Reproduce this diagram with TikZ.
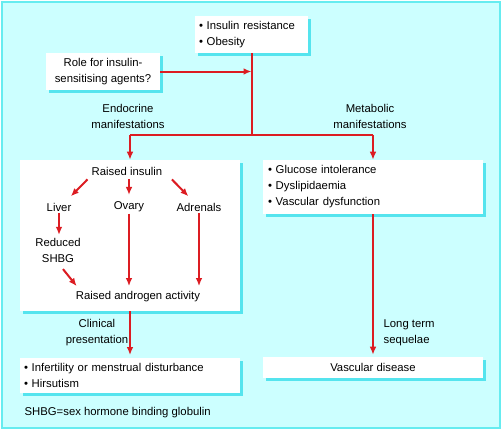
\documentclass[tikz,border=0pt]{standalone}
\usepackage{fontspec}
\setmainfont{Liberation Sans}
\usetikzlibrary{positioning, shadows, arrows.meta}
\definecolor{pale_cyan}{RGB}{204,255,255}
\definecolor{frame_cyan}{RGB}{102,236,240}
\definecolor{shade_cyan}{RGB}{85,228,238}
\definecolor{path_red}{RGB}{220,28,34}
\tikzstyle{panel} = [rectangle, fill=white, inner xsep=3pt, inner ysep=0pt,
                    general shadow={fill=shade_cyan, shadow xshift=2.25pt, shadow yshift=-2.25pt}]
\tikzstyle{txt} = [inner sep=1pt, align=center]
\tikzstyle{arrow} = [line width=1.5pt, -{Latex[length=6pt,width=5pt]}, path_red]
\tikzstyle{link} = [line width=1.5pt, path_red]

\begin{document}
\begin{tikzpicture}[x=0.75pt, y=-0.75pt, every node/.style={font=\fontsize{8.5pt}{12pt}\selectfont}]

    \useasboundingbox (0,0) rectangle (502,430);
    \draw[draw=frame_cyan, fill=pale_cyan, line width=1.5pt] (2,1.5) rectangle (500,428);

    % boxes
    \node[panel, text width=78.75pt, minimum height=27.75pt, align=left] (cause) at (251.5,34.5)
        {\textbullet\ Insulin resistance\\\textbullet\ Obesity};
    \node[panel, minimum width=85.5pt, minimum height=27.75pt, align=center] (role) at (103,71.5)
        {Role for insulin-\\sensitising agents?};
    \node[panel, minimum width=165pt, minimum height=113.25pt] (endobox) at (130,235.5) {};
    \node[panel, text width=157.5pt, inner xsep=3.75pt, minimum height=40.5pt, align=left] (metabox) at (373,187)
        {\textbullet\ Glucose intolerance\\\textbullet\ Dyslipidaemia\\\textbullet\ Vascular dysfunction};
    \node[panel, text width=159pt, minimum height=26.25pt, align=left] (clinbox) at (130,375.5)
        {\textbullet\ Infertility or menstrual disturbance\\\textbullet\ Hirsutism};
    \node[panel, minimum width=165pt, minimum height=15.75pt] (vascbox) at (373,367.5) {Vascular disease};

    % inside the endocrine box
    \node[txt] (insulin) at (127,171) {Raised insulin};
    \node[txt] (liver) at (59,207) {Liver};
    \node[txt] (ovary) at (129,207) {Ovary};
    \node[txt] (adrenals) at (199,207) {Adrenals};
    \node[txt] (shbg) at (58,250) {Reduced\\SHBG};
    \node[txt] (androgen) at (138,297) {Raised androgen activity};

    % labels
    \node[txt] (endolab) at (128,116) {Endocrine\\manifestations};
    \node[txt] (metalab) at (370,116) {Metabolic\\manifestations};
    \node[txt] (clinlab) at (97,333) {Clinical\\presentation};
    \node[txt, align=left, anchor=west] (longlab) at (382,333) {Long term\\sequelae};
    \node[txt, anchor=west] (footnote) at (23,413) {SHBG=sex hormone binding globulin};

    % junction
    \coordinate (split) at (251.5,135);
    \coordinate (splitL) at (130,135);
    \coordinate (splitR) at (373,135);

    \draw[link] (cause.south) -- (split);
    \draw[link] (splitL) -- (splitR);
    \draw[arrow] (role.east) -- (role.east -| split);
    \draw[arrow] (splitL) -- (endobox.north);
    \draw[arrow] (splitR) -- (metabox.north);

    \draw[arrow] ([xshift=-2pt,yshift=-2pt]insulin.south west) -- ([xshift=-1.5pt,yshift=3.75pt]liver.north east);
    \draw[arrow, shorten <=1.75pt, shorten >=4pt] (ovary.north |- insulin.south) -- (ovary.north);
    \draw[arrow] ([xshift=6pt,yshift=-2pt]insulin.south east) -- ([xshift=10pt,yshift=3.75pt]adrenals.north west);
    \draw[arrow, shorten >=1pt] (liver.south) -- (liver.south |- shbg.north);
    \draw[arrow] ([xshift=3.75pt,yshift=-4pt]shbg.south) -- ([xshift=1.75pt,yshift=3pt]androgen.north west);
    \draw[arrow, shorten >=3pt] (ovary.south) -- (ovary.south |- androgen.north);
    \draw[arrow, shorten >=3pt] (adrenals.south) -- (adrenals.south |- androgen.north);

    \draw[arrow, shorten >=2pt] (endobox.south) -- (clinbox.north);
    \draw[arrow, shorten >=1.5pt] (metabox.south) -- (vascbox.north);

\end{tikzpicture}
\end{document}
